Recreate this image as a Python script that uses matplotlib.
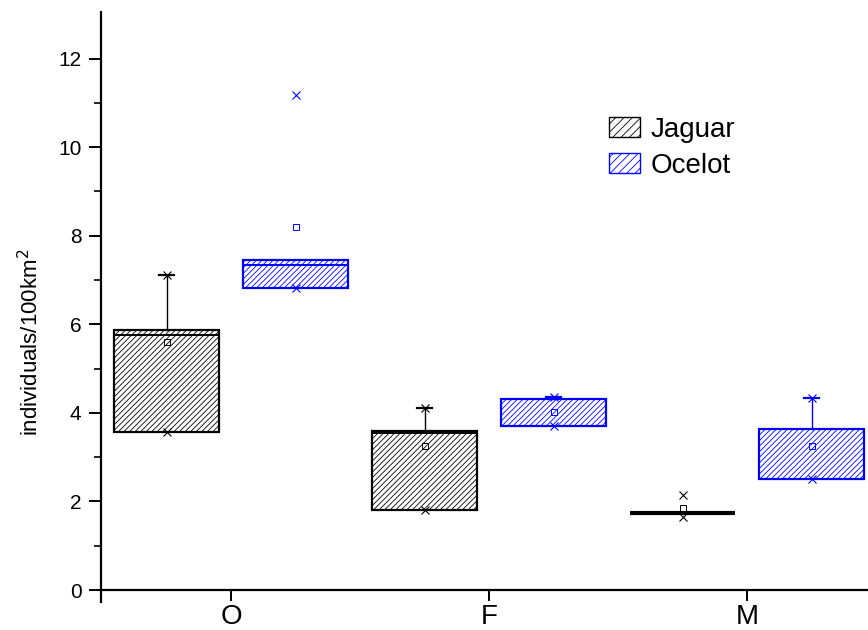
import numpy as np
import matplotlib
matplotlib.use("Agg")
import matplotlib.pyplot as plt
from matplotlib.patches import Patch

plt.rcParams['font.family'] = ['Liberation Sans', 'DejaVu Sans']
plt.rcParams['hatch.linewidth'] = 0.6

categories = ['O', 'F', 'M']
species = ['Jaguar', 'Ocelot']
colors = ['black', '#0000ff']

# box statistics (individuals/100km2)
jag_q1 = [3.57, 1.80, 1.74]
jag_q3 = [5.87, 3.60, 1.74]
jag_med = [5.76, 3.55, 1.74]
jag_whisk = [7.11, 4.11, 1.74]
jag_mean = [5.60, 3.26, 1.85]
jag_max = [7.11, 4.11, 2.14]
jag_min = [3.57, 1.80, 1.66]

oce_q1 = [6.82, 3.70, 2.50]
oce_q3 = [7.45, 4.31, 3.63]
oce_med = [7.34, 4.31, 2.50]
oce_whisk = [7.45, 4.35, 4.33]
oce_mean = [8.19, 4.02, 3.25]
oce_max = [11.17, 4.35, 4.33]
oce_min = [6.82, 3.70, 2.50]

stats = [
    (jag_q1, jag_q3, jag_med, jag_whisk, jag_mean, jag_max, jag_min),
    (oce_q1, oce_q3, oce_med, oce_whisk, oce_mean, oce_max, oce_min),
]

fig = plt.figure(figsize=(8.68, 6.30), dpi=100)
ax = fig.add_axes([101 / 868, 1 - 602 / 630, 1 - 101 / 868, 590 / 630])

x = np.arange(1, len(categories) + 1)
offsets = [-0.25, 0.25]
width = 0.407
cap = 0.03
hatch = '//////'

for (q1, q3, med, whisk, mean, mx, mn), off, c in zip(stats, offsets, colors):
    pos = x + off
    q1 = np.array(q1)
    q3 = np.array(q3)
    ax.bar(pos, q3 - q1, bottom=q1, width=width, facecolor='white',
           edgecolor=c, hatch=hatch, linewidth=1.6, zorder=2)
    for i, p in enumerate(pos):
        # median
        ax.plot([p - width / 2, p + width / 2], [med[i], med[i]], color=c,
                lw=1.4 if q3[i] > q1[i] else 3, zorder=3, solid_capstyle='butt')
        # upper whisker
        if whisk[i] > q3[i]:
            ax.plot([p, p], [q3[i], whisk[i]], color=c, lw=1.0, zorder=3)
            ax.plot([p - cap, p + cap], [whisk[i], whisk[i]], color=c, lw=1.6, zorder=3)
    ax.plot(pos, mean, 's', ms=5, mfc='none', mec=c, mew=0.7, zorder=4)
    ax.plot(pos, mx, 'x', ms=6, color=c, mew=0.8, zorder=4)
    ax.plot(pos, mn, 'x', ms=6, color=c, mew=0.8, zorder=4)

ax.set_xlim(0.496, 3.469)
ax.set_ylim(-0.27, 13.05)

for s in ['top', 'right']:
    ax.spines[s].set_visible(False)
ax.spines['bottom'].set_position(('data', 0))
ax.spines['left'].set_linewidth(1.6)
ax.spines['bottom'].set_linewidth(1.6)

ax.set_xticks(x)
ax.set_xticklabels(categories, fontsize=20)
ax.set_yticks(np.arange(0, 13, 2))
ax.set_yticks(np.arange(1, 13, 2), minor=True)
ax.tick_params(axis='y', which='major', direction='out', length=9, width=1.4,
               labelsize=15, pad=5)
ax.tick_params(axis='y', which='minor', direction='out', length=5, width=1.2)
ax.tick_params(axis='x', which='major', direction='out', length=8, width=1.4, pad=2)

fig.text(31 / 868, 1 - 342 / 630, r'individuals/100km$^2$', rotation=90,
         ha='center', va='center', fontsize=16)

handles = [Patch(facecolor='white', edgecolor=c, hatch='////', linewidth=1.0) for c in colors]
ax.legend(handles, species, loc='upper left', bbox_to_anchor=(609 / 868, 1 - 117 / 630),
          bbox_transform=fig.transFigure, frameon=False, fontsize=20,
          handlelength=1.1, handleheight=0.75, handletextpad=0.4,
          labelspacing=0.35, borderpad=0, borderaxespad=0)

fig.savefig('out.png', dpi=100)
